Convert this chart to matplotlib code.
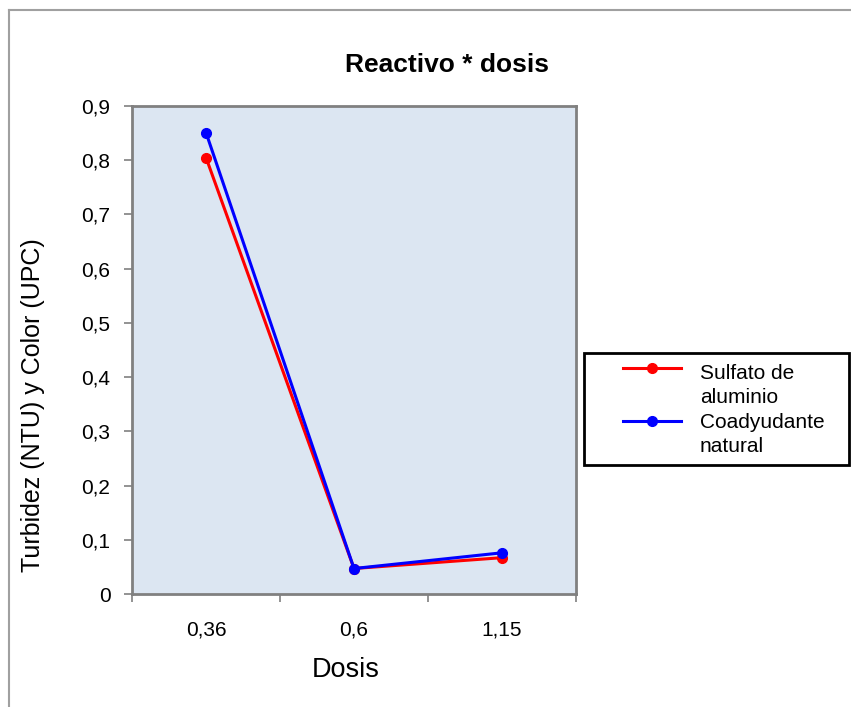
import matplotlib.pyplot as plt
from matplotlib.lines import Line2D
from matplotlib.patches import Rectangle

plt.rcParams['font.family'] = ['Liberation Sans', 'DejaVu Sans']

# mean response per dose level for each reagent
dosis = ['0,36', '0,6', '1,15']
sulfato = [0.805, 0.047, 0.067]
coadyudante = [0.851, 0.047, 0.076]
series_labels = [['Sulfato de', 'aluminio'], ['Coadyudante', 'natural']]
series_colors = ['#ff0000', '#0000ff']
yticks = [0, 0.1, 0.2, 0.3, 0.4, 0.5, 0.6, 0.7, 0.8, 0.9]
ytick_labels = ['0', '0,1', '0,2', '0,3', '0,4', '0,5', '0,6', '0,7', '0,8', '0,9']

W, H = 851, 707
fig = plt.figure(figsize=(W / 100, H / 100), dpi=100)
ax = fig.add_axes([132/W, 1 - 594/H, 444/W, 488/H])
ax.set_facecolor('#dce6f2')

x = range(1, len(dosis) + 1)
for vals, col in zip([sulfato, coadyudante], series_colors):
    ax.plot(x, vals, color=col, lw=2.2, marker='o', ms=7)

ax.set_xlim(0.5, len(dosis) + 0.5)
ax.set_ylim(0, 0.9)
ax.set_yticks(yticks)
ax.set_yticklabels(ytick_labels)

# category boundaries get the tick marks, labels sit in the middle
ax.set_xticks([i + 0.5 for i in range(len(dosis) + 1)])
ax.set_xticklabels([])
ax.set_xticks(list(x), minor=True)
ax.set_xticklabels(dosis, minor=True)
ax.tick_params(axis='x', which='minor', length=0, pad=19, labelsize=15)
ax.tick_params(axis='x', which='major', length=6, width=1.2, color='#808080')
ax.tick_params(axis='y', length=5.5, width=1.2, color='#808080', pad=10, labelsize=15)

for sp in ax.spines.values():
    sp.set_color('#808080')
    sp.set_linewidth(2)

fig.text(447/W, 1 - 65/H, 'Reactivo * dosis', ha='center', va='center',
         fontsize=19, fontweight='bold')
fig.text(33/W, 1 - 405/H, 'Turbidez (NTU) y Color (UPC)', rotation=90,
         ha='center', va='center', fontsize=18)
fig.text(346/W, 1 - 670/H, 'Dosis', ha='center', va='center', fontsize=19.5)

# legend box drawn by hand: handle sits on the first line of each label
fig.add_artist(Rectangle((584/W, 1 - 465/H), 265/W, 112/H, transform=fig.transFigure,
                         fill=False, edgecolor='black', lw=2))
handle_y = [368, 421]
baselines = [[379, 403], [428, 452]]
for col, hy, lines, bls in zip(series_colors, handle_y, series_labels, baselines):
    fig.add_artist(Line2D([623/W, 681/W], [1 - hy/H, 1 - hy/H], color=col, lw=2.2))
    fig.add_artist(Line2D([652/W], [1 - hy/H], color=col, marker='o', ms=7))
    for txt, bl in zip(lines, bls):
        fig.text(700/W, 1 - bl/H, txt, ha='left', va='baseline', fontsize=15)

# outer chart frame, left and top edges
fig.add_artist(Line2D([9/W, 9/W], [0, 1 - 10/H], color='#a0a0a0', lw=1.5))
fig.add_artist(Line2D([9/W, 1], [1 - 10/H, 1 - 10/H], color='#a0a0a0', lw=1.5))

fig.savefig('out.png', dpi=100)
